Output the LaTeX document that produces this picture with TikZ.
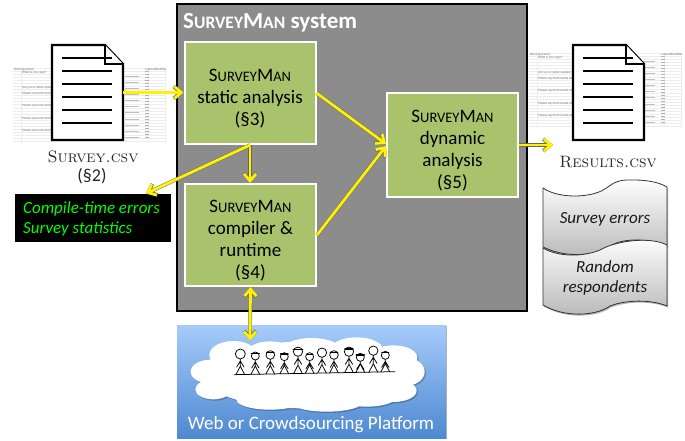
\documentclass[tikz,border=0pt]{standalone}
\usepackage{fontspec}
\newfontfamily\carlito{Carlito}
\newfontfamily\tinyfont{Liberation Sans}
\usetikzlibrary{arrows.meta,shadows,calc}
\definecolor{boxgreen}{HTML}{A9C36C}
\definecolor{sysgray}{HTML}{8C8C8C}
\definecolor{skytop}{HTML}{A6CBFA}
\definecolor{skybot}{HTML}{4E89D0}
\newcommand{\SMan}{\rule{0pt}{23pt}S{\fontsize{14.5}{22}\selectfont URVEY}M{\fontsize{14.5}{22}\selectfont AN}}
\tikzset{
  comp/.style={draw=white,line width=2pt,fill=boxgreen,text=black,minimum width=131pt,minimum height=102pt,
    align=center,font=\carlito\fontsize{19}{22}\selectfont,inner sep=0pt,
    drop shadow={shadow xshift=1pt,shadow yshift=-1pt,opacity=.45,fill=black}},
  flow/.style={draw=yellow,line width=2.8pt,line cap=butt,-{Straight Barb[length=7pt,width=12pt,line width=2.8pt]},
    preaction={draw=black!60,line width=3.6pt,-{Straight Barb[length=7pt,width=12pt,line width=3.6pt]}}},
  flowboth/.style={draw=yellow,line width=2.8pt,{Straight Barb[length=7pt,width=12pt,line width=2.8pt]}-{Straight Barb[length=7pt,width=12pt,line width=2.8pt]},
    preaction={draw=black!60,line width=3.6pt,{Straight Barb[length=7pt,width=12pt,line width=3.6pt]}-{Straight Barb[length=7pt,width=12pt,line width=3.6pt]}}},
  docbody/.style={draw=black,line width=2.2pt,fill=white,line join=miter},
  docline/.style={draw=black,line width=1.3pt},
  sheetgrid/.style={draw=black!7,line width=.25pt},
  sheettext/.style={font=\tinyfont\fontsize{3}{3}\selectfont,text=black!55,inner sep=0pt,anchor=west},
  filename/.style={font=\fontsize{16.5}{20}\selectfont,text=black!85,align=center,inner sep=0pt},
  wavedoc/.style={draw=black!80,line width=.8pt,top color=white,bottom color=black!28,
    drop shadow={shadow xshift=1pt,shadow yshift=-1.5pt,opacity=.3,fill=black}},
  wavetext/.style={font=\carlito\itshape\fontsize{17}{20}\selectfont,align=center,inner sep=0pt,text=black!90},
  stick/.style={draw=black,line width=.75pt,line cap=round,line join=round},
  hair/.style={draw=black,line width=1.5pt,line cap=round}
}
% spreadsheet thumbnail: prefix, left x, top y, width, height
\newcommand{\sheetthumb}[5]{%
  \begin{scope}[shift={(#2,#3)}]
    \foreach \r in {0,3.05,...,#5} \draw[sheetgrid] (0,\r) -- (#4,\r);
    \foreach \c in {8,135,#4} \draw[sheetgrid] (\c,0) -- (\c,#5);
    \foreach \r in {9,21,27,39,52,64} {
      \fill[black!25] (112,\r-1) rectangle (126,\r);
      \fill[black!25] (112,\r+5) rectangle (126,\r+6);
    }
    \foreach \r in {3,6,9,12,15,18,21,24,27,30,33,36,39,42,45,48,51,54,57,60,63,66,69} {
      \fill[black!30] (132,\r) rectangle (136,\r+1);
    }
    \node[sheettext] (#1blk) at (1,1.5) {Block};
    \node[sheettext] (#1qst) at (9,1.5) {Question};
    \node[sheettext] (#1age) at (9,4.5) {What is your age?};
    \node[sheettext] (#1nat) at (9,20) {Are you a native speaker of English?};
    \node[sheettext] (#1pa) at (9,26) {Please say both words aloud};
    \node[sheettext] (#1pb) at (9,38) {Please say both words aloud};
    \node[sheettext] (#1pc) at (9,51) {Please say both words aloud};
    \node[sheettext] (#1pd) at (9,63) {Please say both words aloud};
    \node[sheettext] (#1ord) at (132,1.5) {ordered};
    \node[sheettext] (#1shf) at (142,1.5) {Shuffled};
  \end{scope}}
% document icon: name, left x, top y (71 x 95)
\newcommand{\docicon}[3]{%
  \node[minimum width=71pt,minimum height=95pt,inner sep=0pt] (#1) at (#2+35.5,#3+47.5) {};
  \begin{scope}[shift={(#2,#3)}]
    \draw[docbody] (0,0) -- (53,0) -- (71,19) -- (71,95) -- (0,95) -- cycle;
    \draw[docbody] (53,0) -- (53,19) -- (71,19);
    \foreach \ly in {13,26,39,52,65,78} \draw[docline] (10,\ly) -- (60,\ly);
  \end{scope}}
% stick figure in zoom coordinates: x, head y, radius
\newcommand{\person}[3]{%
  \pgfmathsetmacro{\gy}{224-(#1-193)*0.0187}%
  \draw[stick] (#1,#2) circle[radius=#3];
  \draw[stick] (#1,#2+#3) -- (#1,\gy-25) -- (#1-13,\gy) (#1,\gy-25) -- (#1+13,\gy)
    (#1,#2+#3+6) -- (#1-11,#2+#3+24) (#1,#2+#3+6) -- (#1+11,#2+#3+24);}
\begin{document}
\begin{tikzpicture}[x=1pt,y=-1pt]
\useasboundingbox (0,0) rectangle (685,440);
\fill[white] (0,0) rectangle (685,440);
% input side
\sheetthumb{sa}{13}{68}{152}{75}
\docicon{survey}{52}{45}
\sheetthumb{sb}{529}{53}{152}{74}
\docicon{results}{573}{45}
\node[filename] (surveyname) at (93,156.5) {\textsc{Survey.csv}};
\node[inner sep=0pt,text=black!85,font=\carlito\fontsize{18}{20}\selectfont] (surveysec) at (92,176) {(§2)};
\node[filename] (resultsname) at (608,162) {\textsc{Results.csv}};
% system
\node[draw=black,line width=1.8pt,fill=sysgray,minimum width=350pt,minimum height=307pt,inner sep=0pt] (system) at (352,157.5) {};
\node[anchor=west,inner sep=0pt,text=white,font=\carlito\bfseries\fontsize{23}{26}\selectfont] (systitle) at (183,23)
  {S{\fontsize{17.5}{26}\selectfont URVEY}M{\fontsize{17.5}{26}\selectfont AN} system};
\node[comp] (static) at (250,93) {\SMan\\static analysis\\(§3)};
\node[comp] (compiler) at (250.5,235) {\SMan\\compiler \&\\runtime\\(§4)};
\node[comp,minimum height=104pt] (dynamic) at (452.5,145) {\SMan\\dynamic\\analysis\\(§5)};
% errors box
\node[fill=black,minimum width=156pt,minimum height=48pt,inner sep=0pt] (errors) at (93,218) {};
\node[anchor=west,inner sep=0pt,text=green,align=left,font=\carlito\itshape\fontsize{17}{20}\selectfont] (errtext) at (23,219)
  {Compile-time errors\\Survey statistics};
% stored output
\path[wavedoc] (543,188) .. controls (556,197) and (580,198) .. (596,193)
  .. controls (612,188) and (610,179) .. (633,180) .. controls (650,180) and (660,183) .. (667,187)
  -- (667,246) .. controls (650,239) and (625,237) .. (610,246) .. controls (600,254) and (570,260) .. (543,247) -- cycle;
\path[wavedoc] (543,248) .. controls (556,256) and (580,258) .. (600,250)
  .. controls (615,241) and (650,236) .. (667,245)
  -- (667,306) .. controls (650,299) and (625,300) .. (610,306) .. controls (596,316) and (565,318) .. (543,305) -- cycle;
\node[wavetext] (werr) at (605,219) {Survey errors};
\node[wavetext] (wrand) at (605,278) {Random\\respondents};
% platform
\node[minimum width=269pt,minimum height=113pt,inner sep=0pt,
  top color=skytop,bottom color=skybot,
  drop shadow={shadow xshift=.8pt,shadow yshift=-.8pt,opacity=.3,fill=black}] (platform) at (311.5,381.5) {};
\begin{scope}[shift={(170,300)},x=0.3333pt,y=-0.3333pt]
  \foreach \dx/\col/\op in {4/black/.22,0/white/1} {
    \begin{scope}[shift={(\dx,\dx)}]
      \fill[\col,opacity=\op] (400,225) ellipse[x radius=300,y radius=100]
        (190,165) ellipse[x radius=72,y radius=42]
        (300,160) ellipse[x radius=70,y radius=36]
        (425,152) ellipse[x radius=90,y radius=38]
        (560,150) ellipse[x radius=80,y radius=38]
        (670,172) ellipse[x radius=72,y radius=36]
        (122,215) ellipse[x radius=60,y radius=36]
        (708,215) ellipse[x radius=56,y radius=42]
        (130,268) ellipse[x radius=54,y radius=30]
        (670,272) ellipse[x radius=70,y radius=34]
        (300,300) ellipse[x radius=100,y radius=29]
        (470,305) ellipse[x radius=110,y radius=30]
        (590,290) ellipse[x radius=90,y radius=30];
    \end{scope}
  }
  \coordinate (cloudtop) at (240,122);
  \draw[stick] (193,224) -- (675,215);
  \foreach \px/\py/\pr in {211/162/15,256/168/12,301/165/13,343/170/12,384/155/14,419/170/12,456/158/14,492/165/13,537/155/14,571/172/12,610/152/14,646/166/12} {
    \person{\px}{\py}{\pr}
  }
  \draw[hair] (244,160) -- (268,160) (290,158) -- (312,158) (332,162) -- (354,162) (370,148) -- (398,148)
     (410,163) -- (428,163) (481,157) -- (503,157) (525,147) -- (549,147) (559,165) -- (583,165) (636,158) -- (656,158);
\end{scope}
\node[inner sep=0pt,text=white,font=\carlito\fontsize{19}{22}\selectfont] (plattext) at (311,425) {Web or Crowdsourcing Platform};
% connectors
\coordinate (errtip) at (146,193.5);
\coordinate (resultstip) at (553,145);
\draw[flow] (survey.east) -- (static.west |- survey.east);
\draw[flow] (static.south) -- (compiler.north -| static.south);
\draw[flow] (static.south) -- (errtip);
\draw[flow] (static.east) -- ($(dynamic.west)+(0,-1)$);
\draw[flow] (compiler.east) -- ($(dynamic.west)+(0,1)$);
\draw[flow] (dynamic.east) -- (resultstip);
\draw[flowboth] (compiler.south) -- (cloudtop);
\end{tikzpicture}
\end{document}
